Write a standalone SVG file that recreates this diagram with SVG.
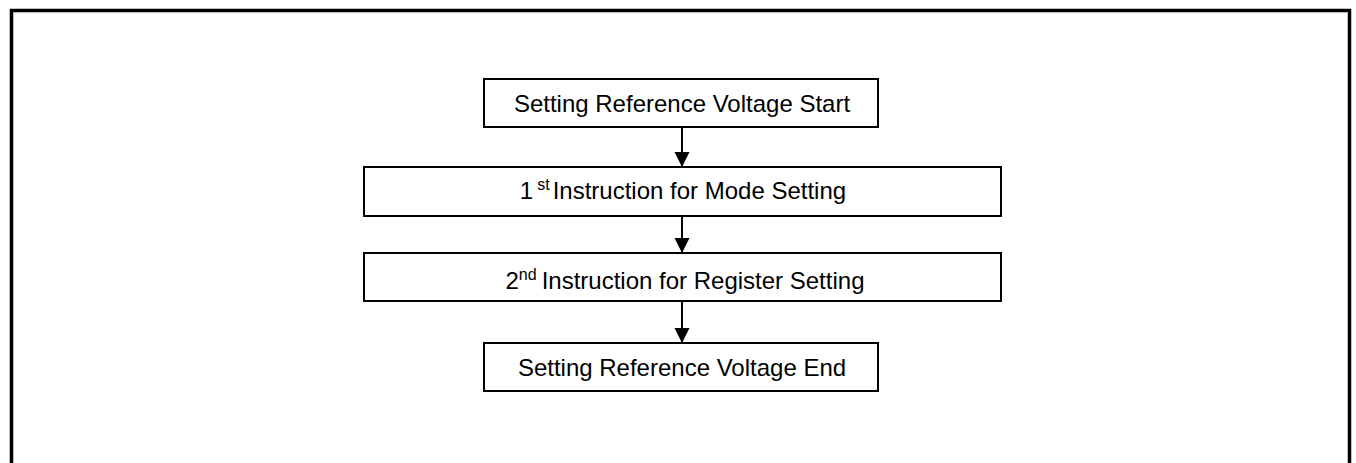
<svg xmlns="http://www.w3.org/2000/svg" width="1356" height="463" viewBox="0 0 1356 463">
<style>
.box{fill:#fff;stroke:#000;stroke-width:2}
.lbl{font-family:"Liberation Sans",Arial,sans-serif;font-size:24px;fill:#000;text-anchor:middle}
.sup{font-size:16px}
.conn{stroke:#000;stroke-width:2;fill:none}
</style>
<defs>
<marker id="ah" markerUnits="userSpaceOnUse" markerWidth="16" markerHeight="16" refX="15" refY="7.5" orient="auto">
<path d="M0,0 L15,7.5 L0,15 Z" fill="#000"/>
</marker>
</defs>
<rect x="11.5" y="10.5" width="1338" height="520" fill="none" stroke="#000" stroke-width="3.5"/>
<g id="connectors">
<line class="conn" x1="682" y1="127" x2="682" y2="167" marker-end="url(#ah)"/>
<line class="conn" x1="682" y1="216" x2="682" y2="253" marker-end="url(#ah)"/>
<line class="conn" x1="682" y1="301" x2="682" y2="343" marker-end="url(#ah)"/>
</g>
<g id="n1">
<rect class="box" x="484" y="79" width="394" height="48"/>
<text class="lbl" x="682" y="112">Setting Reference Voltage Start</text>
</g>
<g id="n2">
<rect class="box" x="364" y="167" width="637" height="49"/>
<text class="lbl" x="683" y="199">1<tspan class="sup" dx="4" dy="-9">st</tspan><tspan dx="3" dy="9">Instruction for Mode Setting</tspan></text>
</g>
<g id="n3">
<rect class="box" x="364" y="253" width="637" height="48"/>
<text class="lbl" x="685" y="289">2<tspan class="sup" dy="-9">nd</tspan><tspan dx="5" dy="9">Instruction for Register Setting</tspan></text>
</g>
<g id="n4">
<rect class="box" x="484" y="343" width="394" height="48"/>
<text class="lbl" x="682" y="376">Setting Reference Voltage End</text>
</g>
</svg>
